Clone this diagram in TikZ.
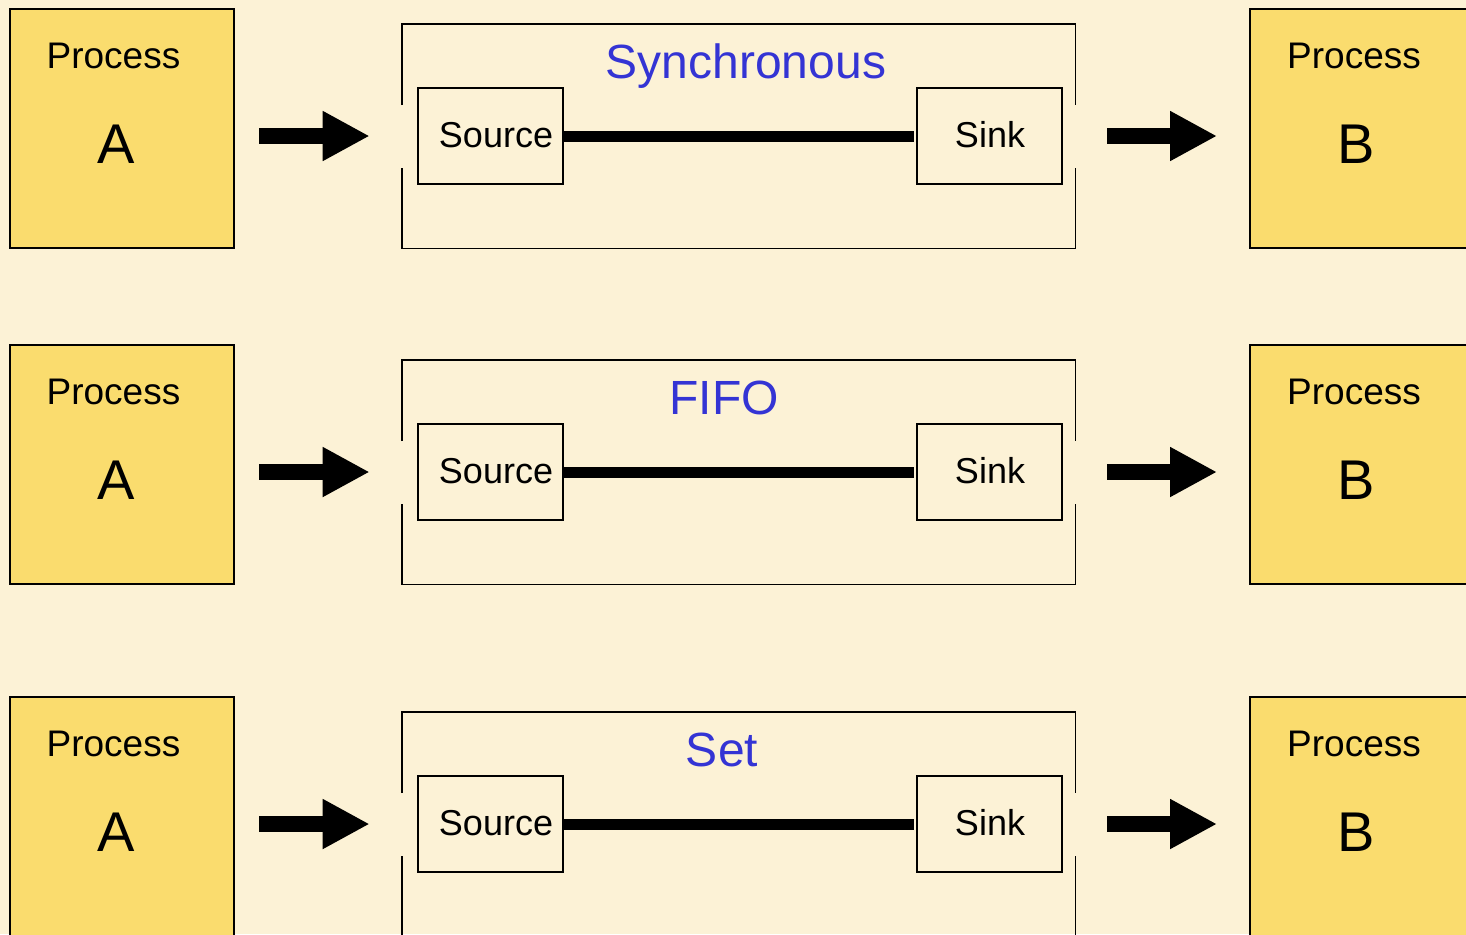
\documentclass[tikz,border=0pt]{standalone}
\usepackage{fontspec}
\setmainfont{Liberation Sans}
\usetikzlibrary{arrows.meta,calc}
\definecolor{bgc}{RGB}{252,242,214}
\definecolor{procfill}{RGB}{250,220,110}
\definecolor{titleblue}{RGB}{52,52,212}
\tikzset{
 procbox/.style={draw=black, line width=1pt, fill=procfill, minimum width=112pt, minimum height=119.5pt, inner sep=0pt},
 proclabel/.style={font=\fontsize{18.5}{20}\selectfont, inner sep=0pt, anchor=base},
 procletter/.style={font=\fontsize{28}{30}\selectfont, inner sep=0pt, anchor=base},
 endbox/.style={draw=black, line width=0.85pt, minimum width=72.5pt, minimum height=48pt, inner sep=0pt},
 endlabel/.style={font=\fontsize{18}{20}\selectfont, inner sep=0pt, anchor=base},
 chantitle/.style={font=\fontsize{24}{26}\selectfont, text=titleblue, inner sep=0pt, anchor=base},
 chanframe/.style={minimum width=336.5pt, minimum height=112pt, inner sep=0pt},
 chanline/.style={line width=0.9pt},
 wire/.style={line width=5.5pt},
 blockarrow/.style={line width=8pt, -{Triangle[length=23.5pt,width=23.5pt]}},
}
\begin{document}
\begin{tikzpicture}[x=0.5pt,y=-0.5pt]
\useasboundingbox (0,0) rectangle (1466,934);
\fill[bgc] (0,0) rectangle (1466,934);
\clip (0,0) rectangle (1466,934);
\foreach \r/\dy/\tx/\title in {1/0/746/Synchronous,2/336/724/FIFO,3/688/722/Set}{
  % process boxes
  \node[procbox] (pa\r) at (122,128.5+\dy) {};
  \node[proclabel] (pat\r) at (113.5,68+\dy) {Process};
  \node[procletter] (pal\r) at (116,163+\dy) {A};
  \node[procbox] (pb\r) at (1362,128.5+\dy) {};
  \node[proclabel] (pbt\r) at (1354,68+\dy) {Process};
  \node[procletter] (pbl\r) at (1356,163+\dy) {B};
  % channel frame
  \node[chanframe] (ch\r) at (738.5,136+\dy) {};
  \draw[chanline] ($(ch\r.west)+(0,-31)$) -- (ch\r.north west) -- (ch\r.north east) -- ($(ch\r.east)+(0,-31)$);
  \draw[chanline] ($(ch\r.east)+(0,32)$) -- (ch\r.south east) -- (ch\r.south west) -- ($(ch\r.west)+(0,32)$);
  \node[chantitle] (ct\r) at (\tx,78+\dy) {\title};
  % source and sink
  \node[endbox] (src\r) at (490.5,136+\dy) {};
  \node[endlabel] (srct\r) at (496,147+\dy) {Source};
  \node[endbox] (snk\r) at (989.5,136+\dy) {};
  \node[endlabel] (snkt\r) at (990,147+\dy) {Sink};
  \draw[wire] (src\r.east) -- ([xshift=-1pt]snk\r.west);
  % arrows
  \draw[blockarrow, shorten <=12pt, shorten >=16pt] (pa\r.east |- ch\r.west) -- (ch\r.west);
  \draw[blockarrow, shorten <=16pt, shorten >=16pt] (ch\r.east) -- (pb\r.west |- ch\r.east);
}
\end{tikzpicture}
\end{document}
